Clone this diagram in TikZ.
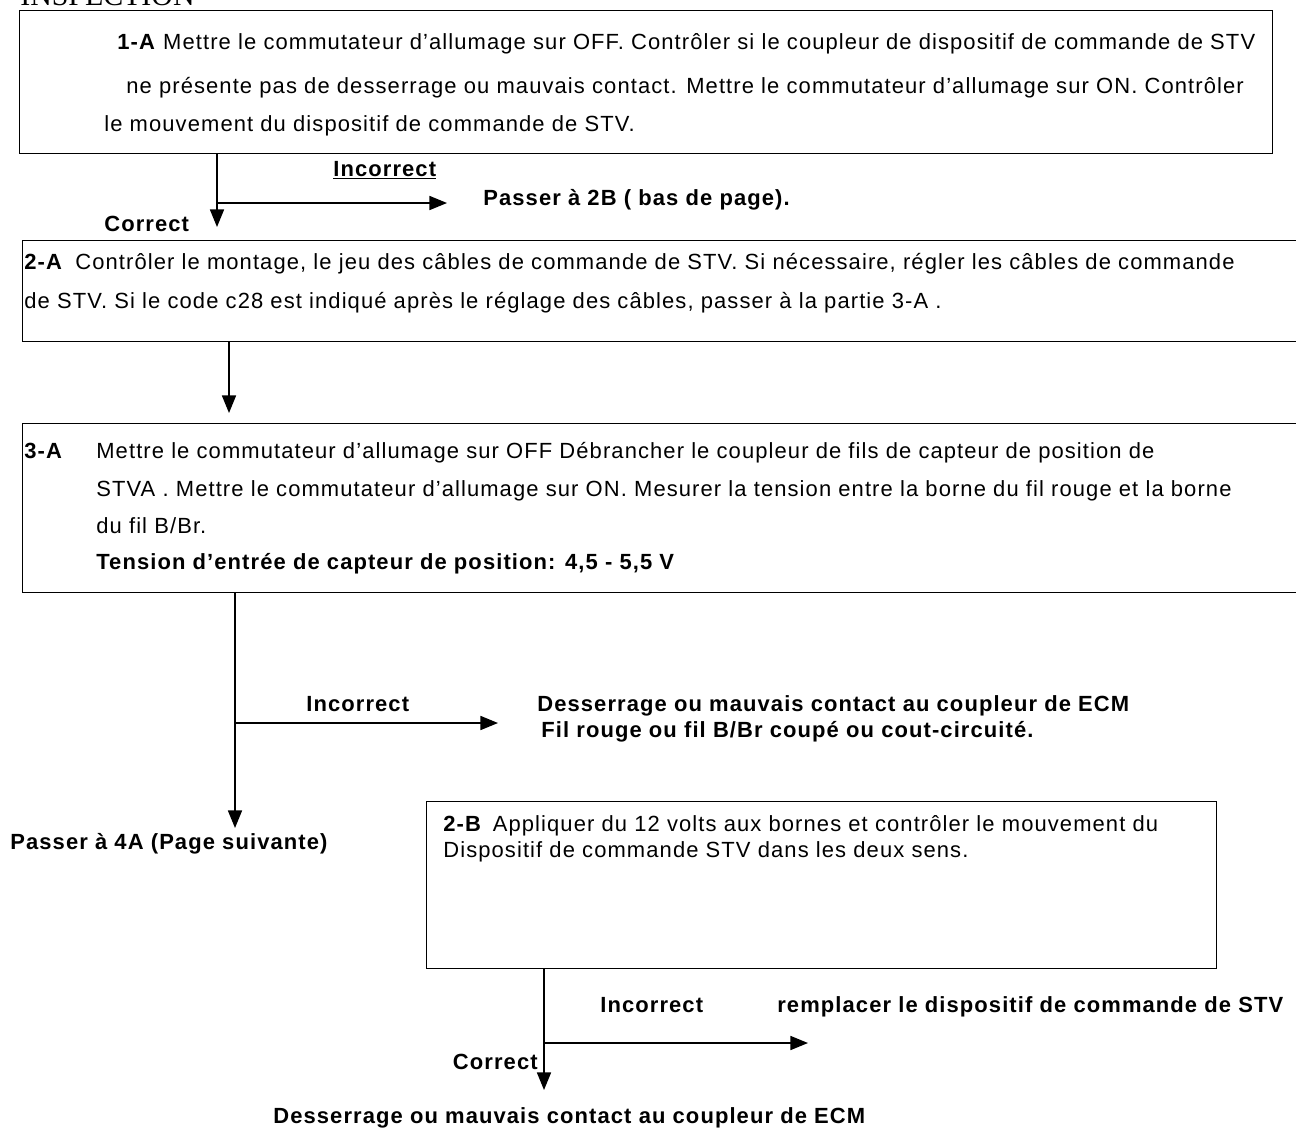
\documentclass[tikz,border=0pt]{standalone}
\usepackage{fontspec}
\setmainfont{Liberation Sans}[LetterSpace=5]
\newfontfamily\titlefont{Liberation Serif}
\usetikzlibrary{arrows.meta,positioning}

\newcommand\fs{\fontsize{12.5pt}{14pt}\selectfont}

\tikzset{
  stepbox/.style={draw,line width=0.8pt,anchor=north west,inner sep=0pt},
  txt/.style={anchor=base west,inner sep=0pt,font=\fs},
  lab/.style={anchor=base west,inner sep=0pt,font=\fs\bfseries},
  arr/.style={line width=0.8pt,-{Triangle[length=10pt,width=8pt]}}
}

\begin{document}
\begin{tikzpicture}[x=0.02cm,y=-0.02cm]
  \useasboundingbox (0,0) rectangle (1296,1127);
  \node[anchor=base west,inner sep=0pt,font=\titlefont\fontsize{17pt}{17pt}\selectfont] (titre) at (20,5) {INSPECTION};

  % 1-A
  \node[stepbox,minimum width=1253*0.02cm,minimum height=143*0.02cm] (s1a) at (19,10) {};
  \node[txt] (l1a1) at (117,49) {\textbf{1-A} Mettre le commutateur d'allumage sur OFF. Contrôler si le coupleur de dispositif de commande de STV};
  \node[txt] (l1a2) at (126,93) {ne présente pas de desserrage ou mauvais contact. Mettre le commutateur d'allumage sur ON. Contrôler};
  \node[txt] (l1a3) at (104,131) {le mouvement du dispositif de commande de STV.};
  \coordinate (j1) at (217,203);
  \coordinate (t1) at (217,227);
  \coordinate (f1) at (447,203);
  \node[lab] (inc1) at (333,176) {\underline{Incorrect}};
  \node[lab] (p2b) at (483,205) {Passer à 2B ( bas de page).};
  \node[lab] (cor1) at (104,231) {Correct};
  \draw[arr] (s1a.south -| j1) -- (t1);
  \draw[arr] (j1) -- (f1);

  % 2-A
  \node[stepbox,minimum width=1300*0.02cm,minimum height=101*0.02cm] (s2a) at (22,240) {};
  \node[lab] (n2a) at (24,269) {2-A};
  \node[txt] (l2a1) at (75,269) {Contrôler le montage, le jeu des câbles de commande de STV. Si nécessaire, régler les câbles de commande};
  \node[txt] (l2a2) at (24,308) {de STV. Si le code c28 est indiqué après le réglage des câbles, passer à la partie 3-A .};
  \coordinate (t2) at (229,413);
  \draw[arr] (s2a.south -| t2) -- (t2);

  % 3-A
  \node[stepbox,minimum width=1300*0.02cm,minimum height=169*0.02cm] (s3a) at (22,423) {};
  \node[lab] (n3a) at (24,458) {3-A};
  \node[txt] (l3a1) at (96,458) {Mettre le commutateur d'allumage sur OFF Débrancher le coupleur de fils de capteur de position de};
  \node[txt] (l3a2) at (96,496) {STVA . Mettre le commutateur d'allumage sur ON. Mesurer la tension entre la borne du fil rouge et la borne};
  \node[txt] (l3a3) at (96,533) {du fil B/Br.};
  \node[lab] (l3a4) at (96,569) {Tension d'entrée de capteur de position: 4,5 - 5,5 V};
  \coordinate (j3) at (235,723);
  \coordinate (t3) at (235,828);
  \coordinate (f3) at (498,723);
  \node[lab] (inc3) at (306,711) {Incorrect};
  \node[lab] (ecm1) at (537,711) {Desserrage ou mauvais contact au coupleur de ECM};
  \node[lab] (ecm2) at (541,737) {Fil rouge ou fil B/Br coupé ou cout-circuité.};
  \node[lab] (p4a) at (10,849) {Passer à 4A (Page suivante)};
  \draw[arr] (s3a.south -| j3) -- (t3);
  \draw[arr] (j3) -- (f3);

  % 2-B
  \node[stepbox,minimum width=790*0.02cm,minimum height=167*0.02cm] (s2b) at (426,801) {};
  \node[txt] (l2b1) at (443,831) {\textbf{2-B}\, Appliquer du 12 volts aux bornes et contrôler le mouvement du};
  \node[txt] (l2b2) at (443,857) {Dispositif de commande STV dans les deux sens.};
  \coordinate (j4) at (544,1043);
  \coordinate (t4) at (544,1090);
  \coordinate (f4) at (808,1043);
  \node[lab] (inc4) at (600,1012) {Incorrect};
  \node[lab] (rmp) at (777,1012) {remplacer le dispositif de commande de STV};
  \node[lab,anchor=base east] (cor4) at (538,1069) {Correct};
  \node[lab] (ecm3) at (273,1123) {Desserrage ou mauvais contact au coupleur de ECM};
  \draw[arr] (s2b.south -| j4) -- (t4);
  \draw[arr] (j4) -- (f4);
\end{tikzpicture}
\end{document}
